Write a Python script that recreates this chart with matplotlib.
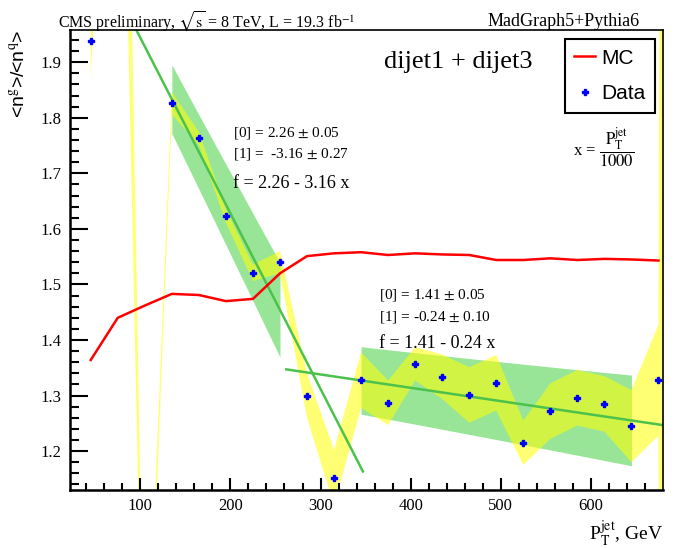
import numpy as np
import matplotlib
matplotlib.use('Agg')
import matplotlib.pyplot as plt

plt.rcParams['font.family'] = ['Liberation Serif', 'DejaVu Serif']
plt.rcParams['mathtext.fontset'] = 'stix'

# data points (ratio <n^g>/<n^q>) and their error band
data_pt = [45, 75, 105, 135, 165, 195, 225, 255, 285, 315, 345, 375, 405, 435,
           465, 495, 525, 555, 585, 615, 645, 675, 705]
data_val = [1.938, 3.12, 0.63, 1.826, 1.763, 1.623, 1.521, 1.540, 1.300, 1.152,
            1.328, 1.287, 1.357, 1.334, 1.301, 1.323, 1.215, 1.272, 1.296,
            1.285, 1.245, 1.328, 1.30]
data_err = [0.07, 0.30, 0.05, 0.02, 0.012, 0.012, 0.015, 0.02, 0.04, 0.05,
            0.05, 0.04, 0.03, 0.04, 0.05, 0.05, 0.04, 0.05, 0.05,
            0.05, 0.065, 0.10, 20.0]

# MC prediction
mc_pt = [45, 75, 105, 135, 165, 195, 225, 255, 285, 315, 345, 375, 405, 435,
         465, 495, 525, 555, 585, 615, 645, 675]
mc_val = [1.364, 1.440, 1.462, 1.483, 1.481, 1.470, 1.474, 1.520, 1.551, 1.556,
          1.558, 1.553, 1.556, 1.554, 1.553, 1.544, 1.544, 1.547, 1.544, 1.546,
          1.545, 1.543]

# linear fits f = p0 + p1 * pT/1000
fit1 = dict(p0=2.26, p1=-3.16, e0=0.05, e1=0.27, line=(80, 347), band=(135, 255))
fit2 = dict(p0=1.41, p1=-0.24, e0=0.05, e1=0.10, line=(262, 680), band=(345, 645))

fig = plt.figure(figsize=(6.79, 5.48), dpi=100)
ax = fig.add_axes([0.1031, 0.1058, 0.8733, 0.8395])

green = '#4cc24c'
for f in (fit1, fit2):
    xb = np.linspace(f['band'][0], f['band'][1], 50)
    xx = xb / 1000.
    fb = f['p0'] + f['p1'] * xx
    err = np.sqrt(f['e0'] ** 2 + (f['e1'] * xx) ** 2)
    ax.fill_between(xb, fb - err, fb + err, color='#33cc33', alpha=0.5, lw=0)

dv = np.array(data_val)
de = np.array(data_err)
ax.fill_between(data_pt, dv - de, dv + de, color='#ffff00', alpha=0.55, lw=0)

for f in (fit1, fit2):
    xl = np.array(f['line'])
    ax.plot(xl, f['p0'] + f['p1'] * xl / 1000., color=green, lw=1.8)

ax.plot(mc_pt, mc_val, color='red', lw=1.8, label='MC')
ax.plot(data_pt, data_val, ls='none', marker='P', ms=5, color='blue', label='Data')

ax.set_xlim(22, 680)
ax.set_ylim(1.13, 1.958)
ax.set_xticks([100, 200, 300, 400, 500, 600])
ax.set_xticks(np.arange(40, 680, 20), minor=True)
ax.set_yticks([1.2, 1.3, 1.4, 1.5, 1.6, 1.7, 1.8, 1.9])
ax.set_yticks(np.arange(1.14, 1.96, 0.02), minor=True)
ax.tick_params(axis='y', which='major', direction='in', length=13, width=1.5, labelsize=12, pad=6)
ax.tick_params(axis='y', which='minor', direction='in', length=6.5, width=1.5)
ax.tick_params(axis='x', which='major', direction='in', length=9, width=1.5, labelsize=12, pad=6)
ax.tick_params(axis='x', which='minor', direction='in', length=5, width=1.5)
for s in ('left', 'bottom'):
    ax.spines[s].set_linewidth(1.8)
for s in ('top', 'right'):
    ax.spines[s].set_linewidth(1.2)

ax.set_xlabel(r'P$_{\mathrm{T}}^{\mathrm{jet}}$, GeV', fontsize=14, loc='right', labelpad=4)
ax.set_ylabel(r'<n$^{\mathrm{g}}$>/<n$^{\mathrm{q}}$>', fontsize=14, loc='top',
              family=['Liberation Sans', 'DejaVu Sans'], labelpad=9)

fig.text(58 / 679, 1 - 22 / 548, r'CMS preliminary, $\sqrt{\mathrm{s}}$ = 8 TeV, L = 19.3 fb$^{\mathrm{-1}}$',
         fontsize=11.5, va='center', ha='left')
fig.text(640 / 679, 1 - 22 / 548, 'MadGraph5+Pythia6', fontsize=13, va='center', ha='right')

ax.text(453, 1.9, 'dijet1 + dijet3', fontsize=19, ha='center', va='center')
ax.text(203, 1.772, r'[0] = 2.26 $\pm$ 0.05', fontsize=11, va='center')
ax.text(203, 1.735, r'[1] =  -3.16 $\pm$ 0.27', fontsize=11, va='center')
ax.text(203, 1.681, 'f = 2.26 - 3.16 x', fontsize=13, va='center')
ax.text(365, 1.481, r'[0] = 1.41 $\pm$ 0.05', fontsize=11, va='center')
ax.text(365, 1.441, r'[1] = -0.24 $\pm$ 0.10', fontsize=11, va='center')
ax.text(365, 1.393, 'f = 1.41 - 0.24 x', fontsize=13, va='center')
ax.text(648, 1.745, r'x = $\dfrac{\mathrm{P_T^{jet}}}{1000}$', fontsize=12, ha='right', va='center')

leg = ax.legend(loc='upper right', bbox_to_anchor=(0.9865, 0.980), borderaxespad=0,
                fancybox=False, edgecolor='black', framealpha=1, handlelength=1.0,
                handletextpad=0.3, borderpad=0.45, labelspacing=0.8,
                prop={'family': ['Liberation Sans', 'DejaVu Sans'], 'size': 15})
leg.get_frame().set_linewidth(1.5)

fig.savefig('out.png', dpi=100)
